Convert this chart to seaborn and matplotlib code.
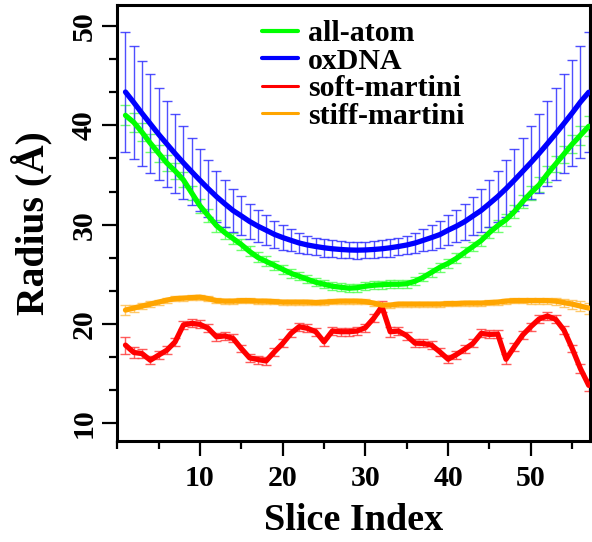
import numpy as np
import pandas as pd
import matplotlib
matplotlib.use("Agg")
import matplotlib.pyplot as plt
import seaborn as sns
from matplotlib.ticker import MultipleLocator, FixedLocator

slices = list(range(1, 58))

all_atom = [41.0, 40.3, 39.3, 38.2, 37.2, 36.2, 35.4, 34.5, 33.2, 31.9,
            30.9, 29.9, 29.2, 28.6, 28.0, 27.3, 26.7, 26.3, 25.9, 25.5,
            25.1, 24.8, 24.5, 24.2, 24.0, 23.8, 23.7, 23.6, 23.65, 23.8,
            23.9, 23.95, 24.0, 24.0, 24.05, 24.3, 24.7, 25.2, 25.7, 26.1,
            26.6, 27.2, 27.8, 28.4, 29.2, 29.9, 30.5, 31.3, 32.3, 33.2,
            34.0, 35.1, 36.1, 37.1, 38.1, 39.0, 39.9]
all_atom_err = [1.0, 0.95, 0.9, 0.9, 0.85, 0.8, 0.8, 0.75, 0.7, 0.7,
                0.65, 0.6, 0.6, 0.55, 0.55, 0.5, 0.5, 0.5, 0.45, 0.45,
                0.45, 0.4, 0.4, 0.4, 0.4, 0.4, 0.4, 0.4, 0.4, 0.4,
                0.4, 0.4, 0.4, 0.4, 0.4, 0.4, 0.4, 0.45, 0.45, 0.45,
                0.5, 0.5, 0.5, 0.55, 0.55, 0.6, 0.6, 0.65, 0.65, 0.7,
                0.75, 0.8, 0.8, 0.85, 0.9, 0.95, 1.0]

oxdna = [43.35, 42.3, 41.2, 40.15, 39.1, 38.12, 37.15, 36.22, 35.33, 34.46,
         33.62, 32.82, 32.1, 31.42, 30.88, 30.32, 29.85, 29.44, 29.02, 28.7,
         28.42, 28.15, 27.95, 27.8, 27.67, 27.57, 27.5, 27.45, 27.43, 27.45,
         27.5, 27.57, 27.67, 27.8, 27.95, 28.15, 28.42, 28.7, 29.0, 29.44,
         29.84, 30.3, 30.87, 31.43, 32.12, 32.83, 33.62, 34.47, 35.35, 36.24,
         37.17, 38.15, 39.15, 40.18, 41.24, 42.35, 43.33]
oxdna_err = [6.03, 5.66, 5.3, 4.97, 4.62, 4.3, 3.98, 3.68, 3.4, 3.13,
             2.86, 2.58, 2.38, 2.16, 1.97, 1.8, 1.62, 1.5, 1.34, 1.22,
             1.1, 1.0, 0.95, 0.9, 0.88, 0.86, 0.85, 0.85, 0.85, 0.85,
             0.85, 0.86, 0.88, 0.9, 0.95, 1.0, 1.1, 1.22, 1.34, 1.5,
             1.6, 1.8, 1.96, 2.15, 2.36, 2.57, 2.85, 3.12, 3.4, 3.68,
             3.97, 4.3, 4.62, 4.98, 5.3, 5.67, 6.05]

soft_martini = [17.87, 17.13, 17.02, 16.35, 16.86, 17.36, 18.2, 19.9, 20.06, 19.96,
                19.56, 18.71, 18.8, 18.55, 17.53, 16.59, 16.42, 16.28, 17.19, 18.04,
                19.05, 19.73, 19.56, 19.22, 18.2, 19.29, 19.22, 19.22, 19.29, 19.63,
                20.57, 21.75, 19.22, 19.29, 18.81, 18.07, 18.04, 17.87, 17.19, 16.45,
                16.92, 17.46, 18.04, 19.05, 18.95, 18.98, 16.45, 17.7, 18.88, 19.73,
                20.5, 20.8, 20.47, 19.39, 17.53, 15.5, 13.82]
soft_martini_err = [0.85, 0.6, 0.45, 0.4, 0.4, 0.4, 0.4, 0.4, 0.4, 0.4,
                    0.4, 0.4, 0.4, 0.4, 0.4, 0.4, 0.4, 0.4, 0.4, 0.4,
                    0.4, 0.4, 0.4, 0.4, 0.4, 0.4, 0.4, 0.4, 0.4, 0.4,
                    0.4, 0.55, 0.5, 0.4, 0.4, 0.4, 0.4, 0.4, 0.4, 0.4,
                    0.4, 0.4, 0.4, 0.4, 0.4, 0.4, 0.5, 0.4, 0.4, 0.4,
                    0.4, 0.4, 0.4, 0.4, 0.4, 0.45, 0.6]

stiff_martini = [21.4, 21.6, 21.8, 22.0, 22.2, 22.4, 22.55, 22.6, 22.65, 22.7,
                 22.55, 22.35, 22.3, 22.3, 22.35, 22.35, 22.3, 22.3, 22.25, 22.2,
                 22.2, 22.2, 22.2, 22.15, 22.2, 22.25, 22.3, 22.3, 22.3, 22.25,
                 22.1, 21.9, 21.9, 22.0, 22.0, 22.0, 22.0, 22.0, 22.0, 22.05,
                 22.05, 22.1, 22.1, 22.1, 22.15, 22.2, 22.3, 22.35, 22.35, 22.35,
                 22.35, 22.35, 22.3, 22.15, 22.0, 21.8, 21.6]
stiff_martini_err = [0.5, 0.35, 0.3, 0.3, 0.25, 0.25, 0.25, 0.25, 0.25, 0.25,
                     0.25, 0.25, 0.25, 0.25, 0.25, 0.25, 0.25, 0.25, 0.25, 0.25,
                     0.25, 0.25, 0.25, 0.25, 0.25, 0.25, 0.25, 0.25, 0.25, 0.25,
                     0.25, 0.25, 0.25, 0.25, 0.25, 0.25, 0.25, 0.25, 0.25, 0.25,
                     0.25, 0.25, 0.25, 0.25, 0.25, 0.25, 0.25, 0.25, 0.25, 0.3,
                     0.3, 0.3, 0.35, 0.4, 0.45, 0.5, 0.55]

x_ticks = [10, 20, 30, 40, 50]
y_ticks = [10, 20, 30, 40, 50]

labels = ["all-atom", "oxDNA", "soft-martini", "stiff-martini"]
line_colors = ["#00ff00", "#0000ff", "#ff0000", "#ffa500"]
err_colors = ["#55ff55", "#3030ff", "#ff4040", "#ffc050"]

series = [all_atom, oxdna, soft_martini, stiff_martini]
errors = [all_atom_err, oxdna_err, soft_martini_err, stiff_martini_err]

frames = []
for lab, vals in zip(labels, series):
    frames.append(pd.DataFrame({"Slice": slices, "Radius": vals, "Model": lab}))
df = pd.concat(frames, ignore_index=True)

sns.set_theme(style="ticks")
plt.rcParams["font.family"] = ["Liberation Serif", "DejaVu Serif"]
plt.rcParams["font.weight"] = "bold"
plt.rcParams["axes.labelweight"] = "bold"
for key in ["text.color", "axes.labelcolor", "xtick.color", "ytick.color",
            "xtick.labelcolor", "ytick.labelcolor", "axes.edgecolor"]:
    plt.rcParams[key] = "black"

fig = plt.figure(figsize=(5.92, 5.42), dpi=100)
ax = fig.add_axes([0.198, 0.186, 0.7986, 0.8046])

# error bars
for vals, errs, ec in zip(series, errors, err_colors):
    ax.errorbar(slices, vals, yerr=errs, fmt="none", ecolor=ec, elinewidth=1.0,
                capsize=3.5, capthick=1.0, alpha=0.85, zorder=1)

sns.lineplot(data=df, x="Slice", y="Radius", hue="Model", hue_order=labels,
             palette=dict(zip(labels, line_colors)), linewidth=3.8, ax=ax,
             zorder=3, legend=True)
for ln, lw in zip(ax.get_lines(), [4.1, 4.0, 3.9, 2.9]):
    ln.set_linewidth(lw)

ax.set_xlim(0, 57.15)
ax.set_ylim(8.2, 52.1)
ax.xaxis.set_major_locator(FixedLocator(x_ticks))
ax.xaxis.set_minor_locator(MultipleLocator(5))
ax.yaxis.set_major_locator(FixedLocator(y_ticks))
ax.yaxis.set_minor_locator(MultipleLocator(10 / 3))

ax.tick_params(axis="both", which="major", direction="out", length=11, width=1.6,
               labelsize=21.5, color="black", labelcolor="black")
ax.tick_params(axis="both", which="minor", direction="out", length=5.5, width=1.6,
               color="black")
ax.tick_params(axis="x", which="major", pad=6)
ax.tick_params(axis="y", which="major", pad=3)
for lab in ax.get_yticklabels():
    lab.set_rotation(90)
    lab.set_va("center")
for lab in ax.get_xticklabels() + ax.get_yticklabels():
    lab.set_fontweight("bold")

for sp in ax.spines.values():
    sp.set_linewidth(2.2)
    sp.set_color("black")

ax.set_xlabel("Slice Index", fontsize=27.5, fontweight="bold", labelpad=8)
ax.set_ylabel("Radius (Å)", fontsize=28.5, fontweight="bold", labelpad=13)

leg = ax.legend(loc="upper left", bbox_to_anchor=(262 / 592, 1 - 20 / 542),
                bbox_transform=fig.transFigure, frameon=False, borderpad=0,
                borderaxespad=0, handlelength=1.2, handletextpad=0.33,
                labelspacing=0.02, prop={"size": 21.5, "weight": "bold"})
for h, lw in zip(leg.get_lines(), [3.0, 3.0, 2.2, 2.2]):
    h.set_linewidth(lw)
for t in leg.get_texts():
    t.set_color("black")

fig.savefig("out.png", dpi=100)
